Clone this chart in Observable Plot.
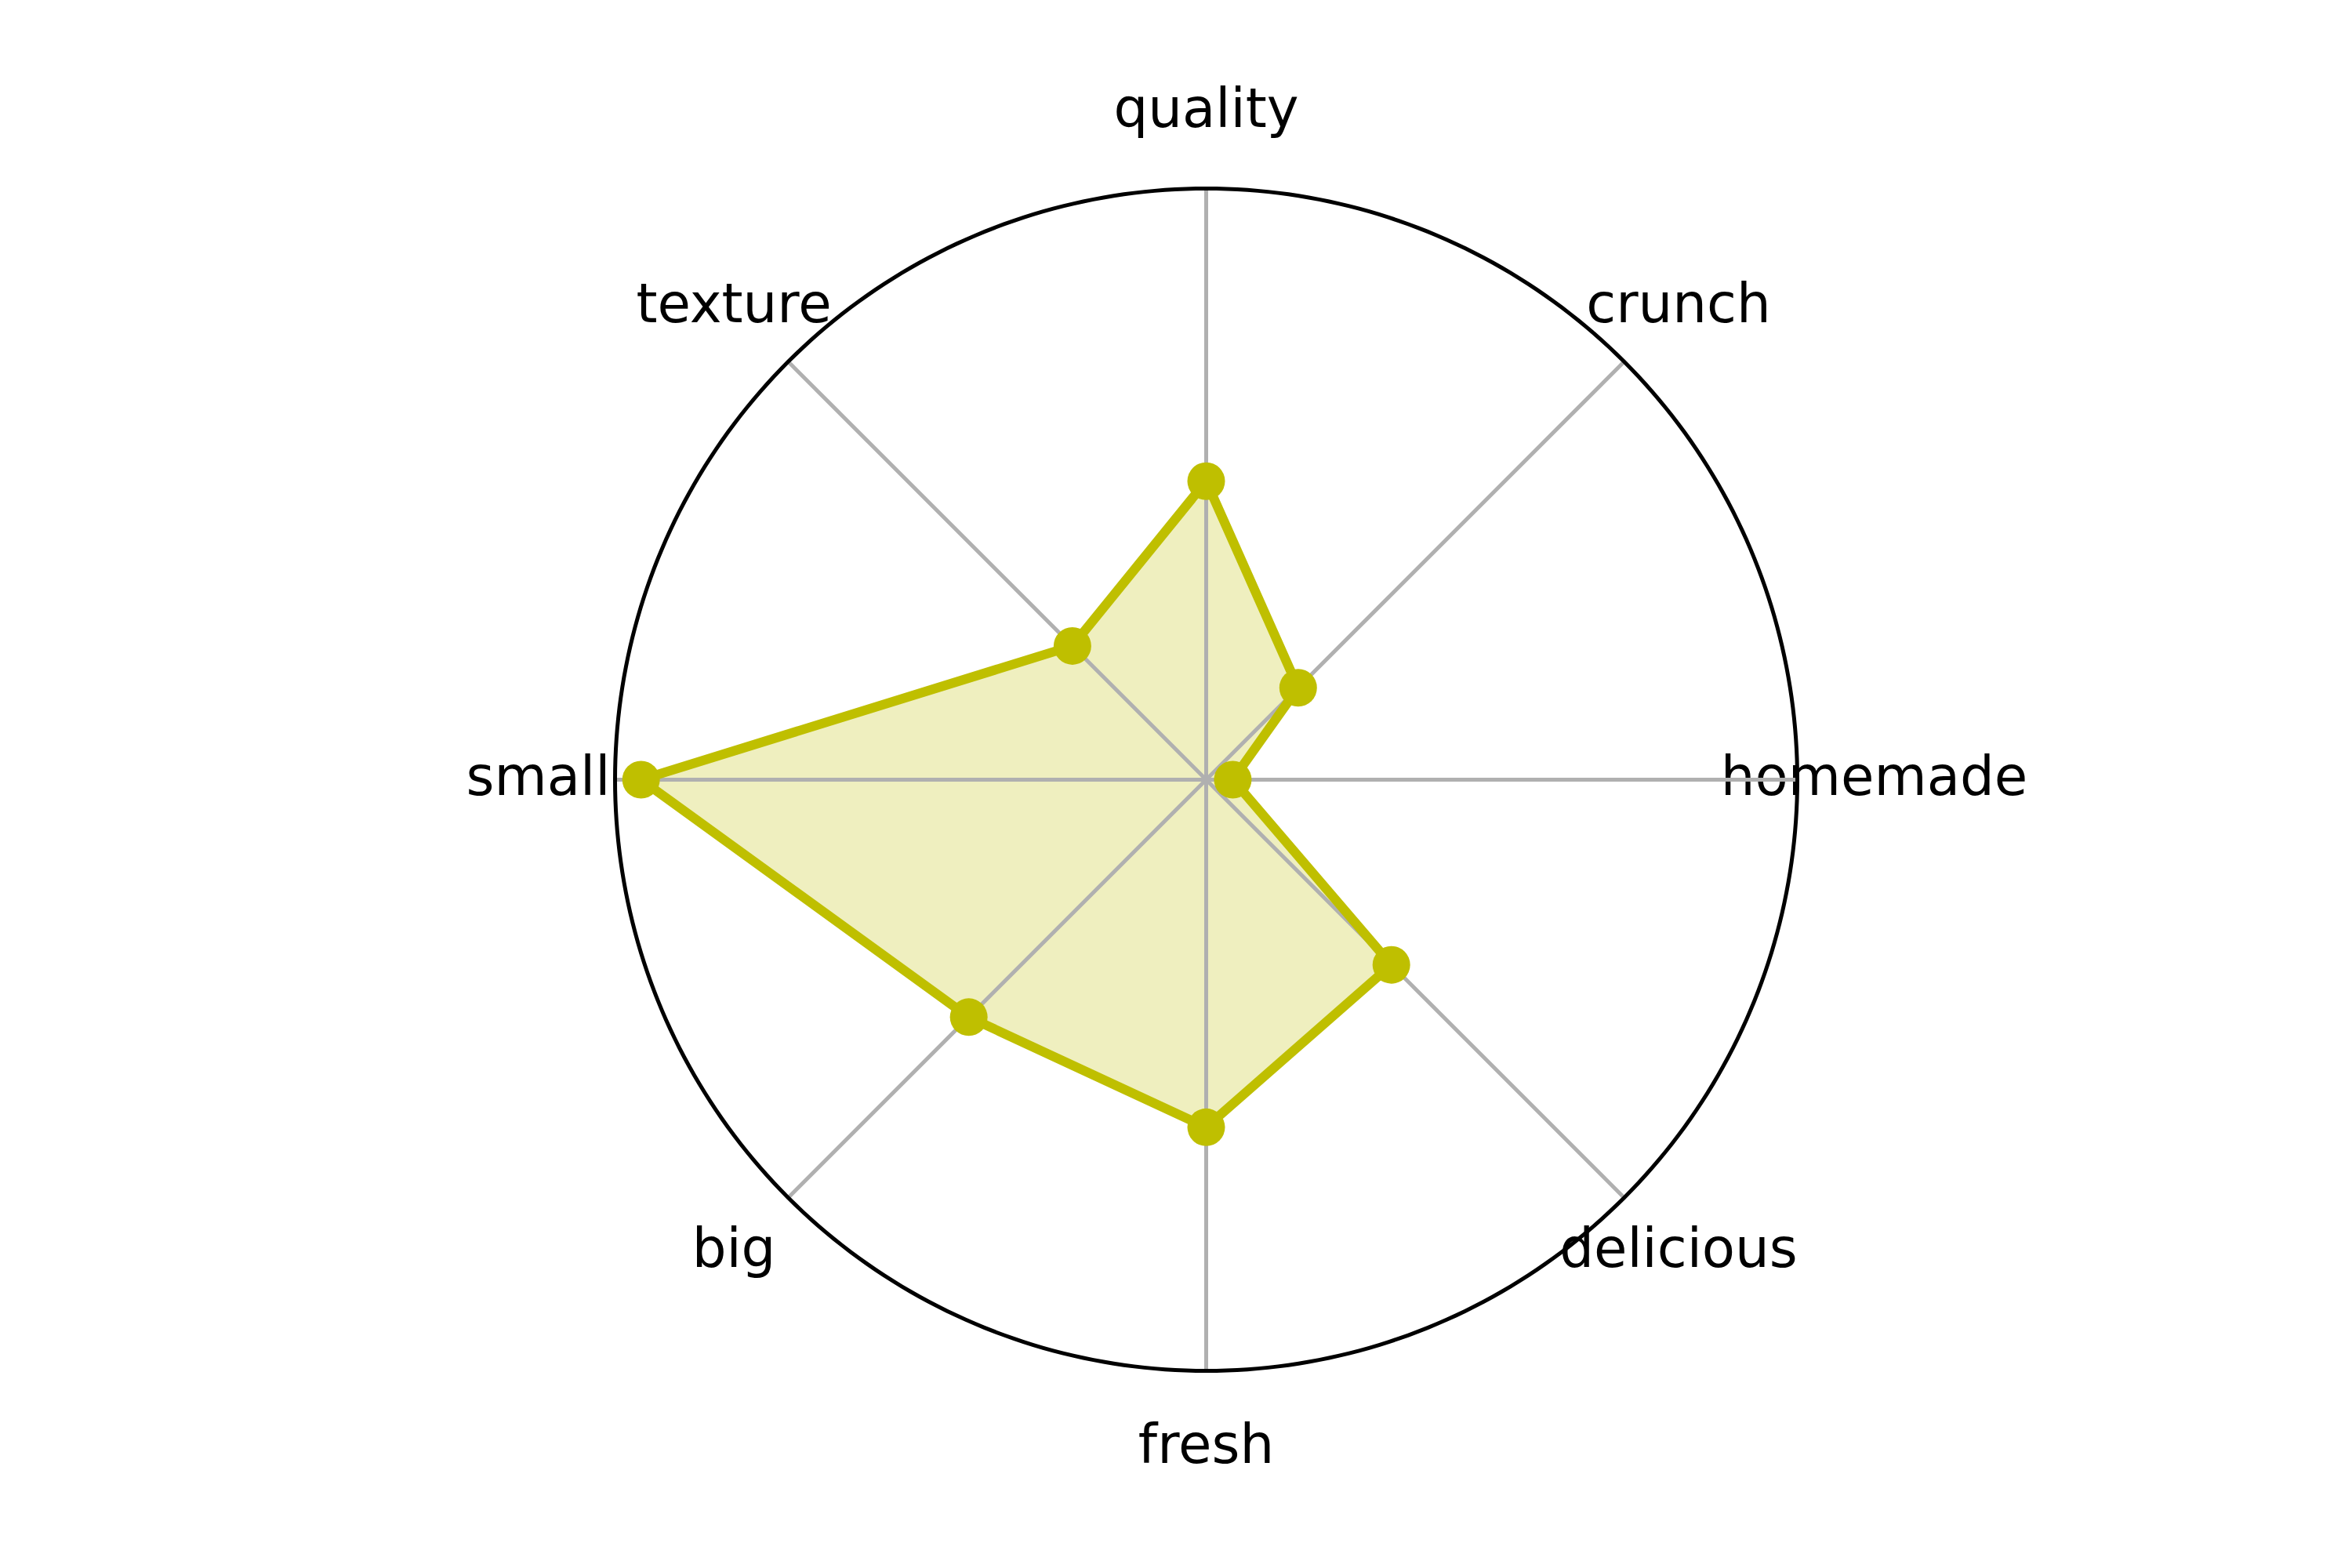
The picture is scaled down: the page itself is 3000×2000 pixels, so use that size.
<!DOCTYPE html>
<html>
<head>
<meta charset="utf-8">
<script src="https://cdn.jsdelivr.net/npm/d3@7"></script>
<script src="https://cdn.jsdelivr.net/npm/@observablehq/plot@0.6"></script>
<style>
  html, body { margin: 0; padding: 0; background: #ffffff; }
  #chart svg { display: block; }
</style>
</head>
<body>
<div id="chart"></div>
<script>
// Categories (counter-clockwise starting at the right, 45° apart)
const categories = ["homemade", "crunch", "quality", "texture", "small", "big", "fresh", "delicious"];
// Radial values (0..1 of the outer circle)
const values = [0.045, 0.22, 0.505, 0.32, 0.956, 0.568, 0.588, 0.443];

const n = categories.length;
const angle = i => (2 * Math.PI * i) / n;

const points = categories.map((c, i) => ({
  name: c,
  value: values[i],
  x: values[i] * Math.cos(angle(i)),
  y: values[i] * Math.sin(angle(i))
}));

const spokes = categories.map((c, i) => ({
  name: c,
  x: Math.cos(angle(i)),
  y: Math.sin(angle(i))
}));

const labelR = 1.13;
const labels = categories.map((c, i) => ({
  name: c,
  x: labelR * Math.cos(angle(i)),
  y: labelR * Math.sin(angle(i))
}));

const ring = d3.range(0, 361).map(a => ({
  x: Math.cos(a * Math.PI / 180),
  y: Math.sin(a * Math.PI / 180)
}));

const color = "#bfbf00";

const chart = Plot.plot({
  width: 3000,
  height: 2000,
  marginLeft: 784,
  marginRight: 708,
  marginTop: 240,
  marginBottom: 252,
  x: { domain: [-1, 1], axis: null },
  y: { domain: [-1, 1], axis: null },
  style: { background: "#ffffff", fontFamily: "DejaVu Sans" },
  marks: [
    Plot.text(labels, {
      x: "x", y: "y", text: "name", dy: -3,
      fontSize: 69, fontFamily: "DejaVu Sans", fill: "#000000",
      textAnchor: "middle", lineAnchor: "middle"
    }),
    Plot.line(points, {
      x: "x", y: "y", curve: "linear-closed",
      fill: color, fillOpacity: 0.25, stroke: "none"
    }),
    Plot.link(spokes, {
      x1: () => 0, y1: () => 0, x2: "x", y2: "y",
      stroke: "#b0b0b0", strokeWidth: 5
    }),
    Plot.line(ring, {
      x: "x", y: "y", stroke: "#000000", strokeWidth: 5, curve: "linear"
    }),
    Plot.line(points, {
      x: "x", y: "y", curve: "linear-closed",
      fill: "none", stroke: color, strokeWidth: 12, strokeLinejoin: "miter"
    }),
    Plot.dot(points, {
      x: "x", y: "y", r: 24, fill: color, stroke: "none"
    })
  ]
});

document.getElementById("chart").appendChild(chart);
</script>
</body>
</html>
